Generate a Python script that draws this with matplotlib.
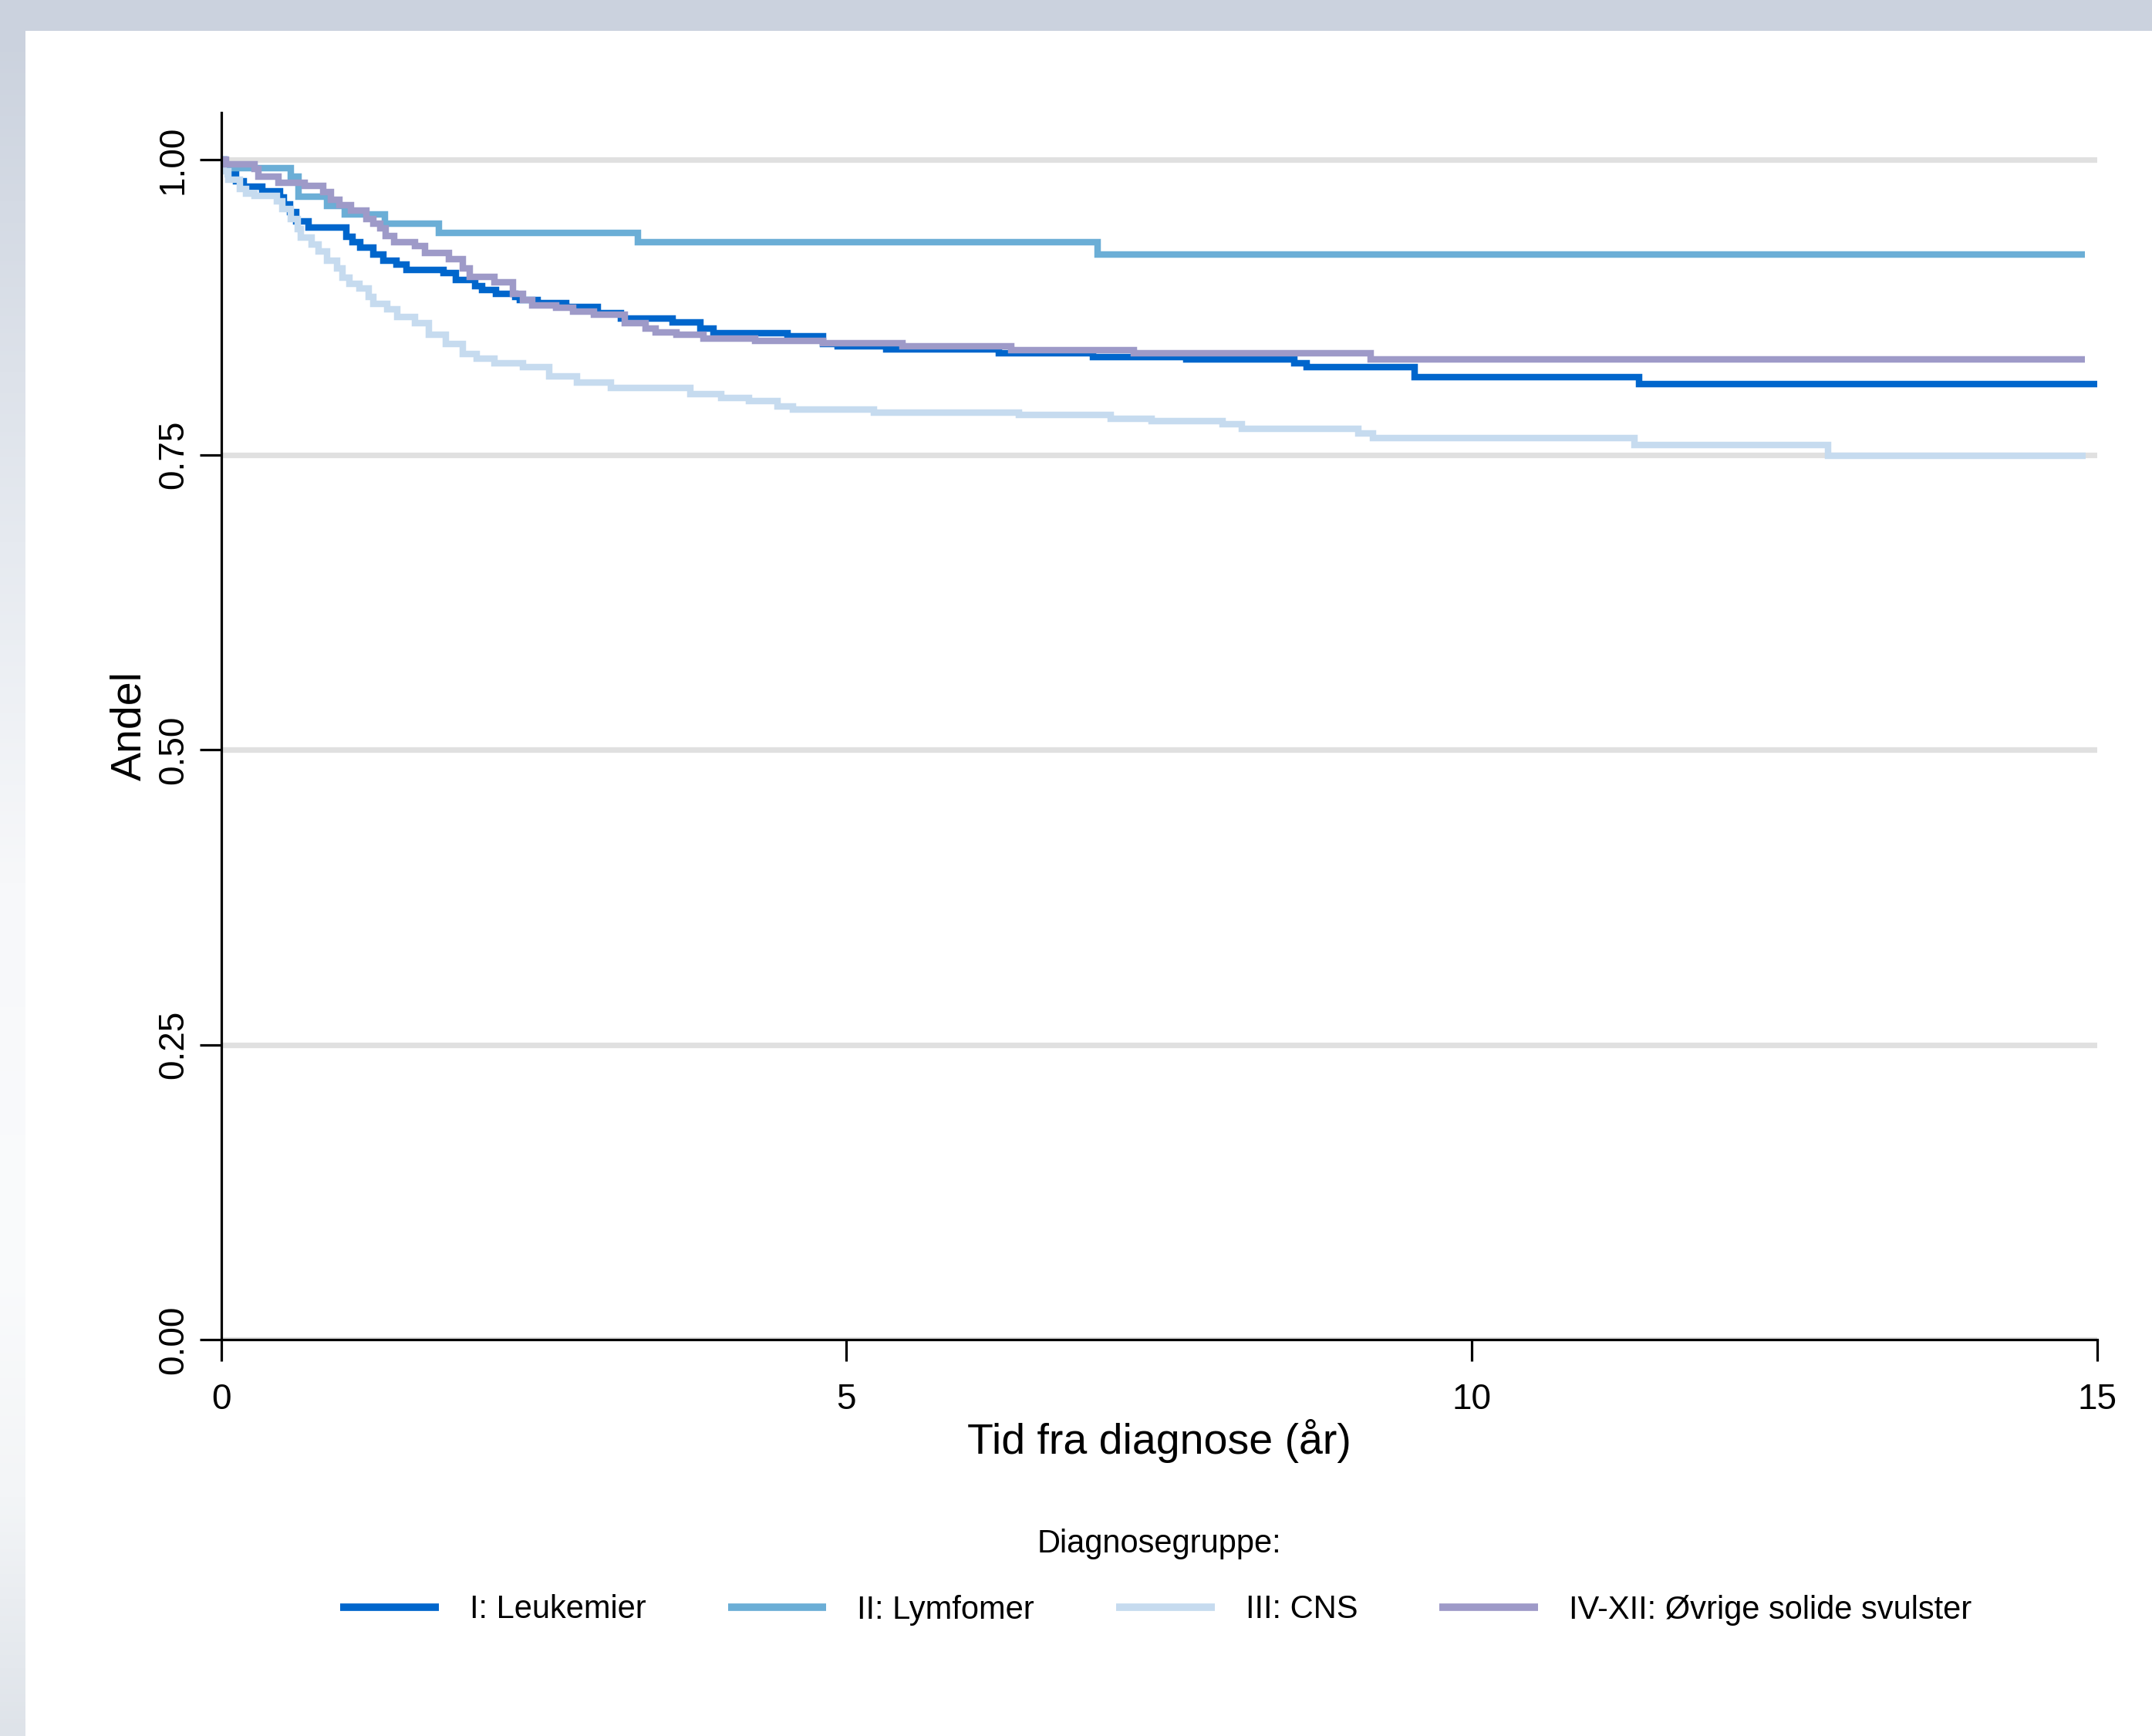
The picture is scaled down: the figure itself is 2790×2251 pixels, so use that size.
import matplotlib
matplotlib.use("Agg")
import matplotlib.pyplot as plt
import numpy as np
from matplotlib.patches import Rectangle

plt.rcParams["font.family"] = ["Liberation Sans", "DejaVu Sans"]

# ---------------- data ----------------
group_labels = ["I: Leukemier", "II: Lymfomer", "III: CNS", "IV-XII: Øvrige solide svulster"]
group_colors = ["#0066CC", "#6BAED6", "#C6DBEF", "#9E9AC8"]

leuk_time = [0, 0.03, 0.06, 0.12, 0.18, 0.33, 0.47, 0.50, 0.55, 0.60, 0.70, 1.00, 1.05, 1.11,
             1.22, 1.30, 1.40, 1.48, 1.78, 1.88, 2.03, 2.09, 2.20, 2.35, 2.39, 2.53, 2.76,
             3.01, 3.20, 3.61, 3.83, 3.94, 4.53, 4.81, 4.93, 5.32, 6.22, 6.97, 7.72, 8.58,
             8.68, 9.54, 11.34, 15.0]
leuk_surv = [1.0, 0.993, 0.988, 0.982, 0.977, 0.9735, 0.968, 0.962, 0.956, 0.948, 0.9427, 0.935,
             0.930, 0.9257, 0.920, 0.9147, 0.9115, 0.9067, 0.9039, 0.8984, 0.893, 0.8897, 0.8864,
             0.884, 0.881, 0.8788, 0.8755, 0.870, 0.8657, 0.8624, 0.857, 0.853, 0.8505, 0.8439,
             0.8417, 0.8391, 0.8363, 0.833, 0.8308, 0.8275, 0.8243, 0.816, 0.8099, 0.8099]

lymf_time = [0, 0.02, 0.556, 0.62, 0.85, 0.99, 1.31, 1.74, 3.33, 7.01, 14.9]
lymf_surv = [1.0, 0.9927, 0.9856, 0.9686, 0.961, 0.9534, 0.9457, 0.9377, 0.9305, 0.9195, 0.9195]

cns_time = [0, 0.02, 0.06, 0.15, 0.20, 0.27, 0.45, 0.49, 0.559, 0.614, 0.641, 0.724, 0.779,
            0.848, 0.930, 0.972, 1.027, 1.109, 1.178, 1.220, 1.330, 1.412, 1.550, 1.660,
            1.798, 1.936, 2.045, 2.183, 2.417, 2.624, 2.844, 3.119, 3.752, 4.00, 4.22, 4.45,
            4.57, 5.22, 6.38, 7.11, 7.44, 8.01, 8.16, 9.09, 9.21, 11.30, 12.85, 14.91]
cns_surv = [1.0, 0.99, 0.983, 0.975, 0.9714, 0.9695, 0.965, 0.958, 0.950, 0.941, 0.9344, 0.928,
            0.9224, 0.9148, 0.908, 0.900, 0.8951, 0.8908, 0.884, 0.8777, 0.8733, 0.8668, 0.8613,
            0.8515, 0.8439, 0.8352, 0.8312, 0.8275, 0.8243, 0.8166, 0.8112, 0.8068, 0.8014,
            0.7981, 0.7955, 0.791, 0.7883, 0.7857, 0.7835, 0.7807, 0.7785, 0.776, 0.772, 0.768,
            0.7643, 0.7585, 0.749, 0.749]

oevr_time = [0, 0.04, 0.27, 0.297, 0.462, 0.669, 0.82, 0.876, 0.944, 1.041, 1.165, 1.22, 1.275,
             1.316, 1.385, 1.55, 1.633, 1.825, 1.936, 1.99, 2.183, 2.335, 2.417, 2.486, 2.679,
             2.816, 2.981, 3.23, 3.395, 3.477, 3.642, 3.86, 4.27, 4.81, 5.45, 6.32, 7.30, 9.19,
             14.9]
oevr_surv = [1.0, 0.9965, 0.9925, 0.9856, 0.9802, 0.978, 0.9725, 0.966, 0.9616, 0.9573, 0.9500,
             0.946, 0.942, 0.9355, 0.930, 0.9267, 0.9213, 0.9158, 0.908, 0.9006, 0.8962, 0.8864,
             0.881, 0.8766, 0.8744, 0.8711, 0.869, 0.8613, 0.857, 0.8537, 0.8515, 0.8487,
             0.8465, 0.8443, 0.8421, 0.8385, 0.8358, 0.8308, 0.8308]

x_ticks = [0, 5, 10, 15]
y_ticks = [0.0, 0.25, 0.50, 0.75, 1.00]
y_ticklabels = ["0.00", "0.25", "0.50", "0.75", "1.00"]
x_label = "Tid fra diagnose (år)"
y_label = "Andel"
legend_title = "Diagnosegruppe:"

# ---------------- figure ----------------
W, H = 2790, 2251
fig = plt.figure(figsize=(W / 100, H / 100), dpi=100)
fig.patch.set_facecolor("white")

# page-like frame: top band and left gradient strip
fig.patches.append(Rectangle((0, 1 - 40 / H), 1, 40 / H, transform=fig.transFigure,
                             facecolor="#CBD2DE", edgecolor="none", zorder=0))
stops = [(0.0, (203, 210, 222)), (0.30, (230, 234, 240)), (0.50, (247, 248, 250)),
         (0.72, (250, 251, 252)), (0.86, (243, 245, 247)), (1.0, (222, 227, 233))]
n = 400
pos = np.linspace(0, 1, n)
grad = np.zeros((n, 1, 3))
for c in range(3):
    grad[:, 0, c] = np.interp(pos, [s[0] for s in stops], [s[1][c] / 255 for s in stops])
gax = fig.add_axes([0, 0, 33 / W, 1 - 40 / H])
gax.imshow(grad, aspect="auto", extent=[0, 1, 0, 1])
gax.axis("off")

# main axes
x0, x1 = 286.5, 2719.0
y0, ytop = 1737.0, 146.0
ax = fig.add_axes([x0 / W, 1 - y0 / H, (x1 - x0) / W, (y0 - ytop) / H])
ax.set_xlim(0, 15)
ax.set_ylim(0, 1.04)

series = [(leuk_time, leuk_surv), (lymf_time, lymf_surv), (cns_time, cns_surv), (oevr_time, oevr_surv)]
handles = []
for (t, s), col, lab in zip(series, group_colors, group_labels):
    ln, = ax.plot(t, s, drawstyle="steps-post", color=col, lw=6.1, label=lab,
                  solid_joinstyle="miter", solid_capstyle="butt")
    handles.append(ln)

ax.set_xticks(x_ticks)
ax.set_yticks(y_ticks, labels=y_ticklabels, rotation=90, va="center")
ax.yaxis.grid(True, color="#E0E0E0", linewidth=5.2)
ax.xaxis.grid(False)
ax.set_axisbelow(True)

for side in ["top", "right"]:
    ax.spines[side].set_visible(False)
for side in ["left", "bottom"]:
    ax.spines[side].set_linewidth(2.3)
    ax.spines[side].set_color("black")
ax.tick_params(axis="both", direction="out", length=20, width=2.3, labelsize=33, colors="black")
ax.tick_params(axis="x", pad=20)
ax.tick_params(axis="y", pad=8.5)

ax.set_xlabel(x_label, fontsize=40, va="center")
ax.xaxis.set_label_coords(0.5, -0.0827)
ax.set_ylabel(y_label, fontsize=40, va="center")
ax.yaxis.set_label_coords(-0.0484, 0.5)

xc = (x0 + x1) / 2 / W
fig.text(xc, 1 - 2002.5 / H, legend_title, fontsize=30, ha="center", va="center")
leg = fig.legend(handles=handles, loc="center", bbox_to_anchor=(xc - 0.0015, 1 - 2087.5 / H), ncol=4,
                 frameon=False, fontsize=30, handlelength=3.07, handletextpad=0.95,
                 columnspacing=2.55)
for l in leg.get_lines():
    l.set_linewidth(7)

fig.savefig("out.png", dpi=100, facecolor=fig.get_facecolor())
